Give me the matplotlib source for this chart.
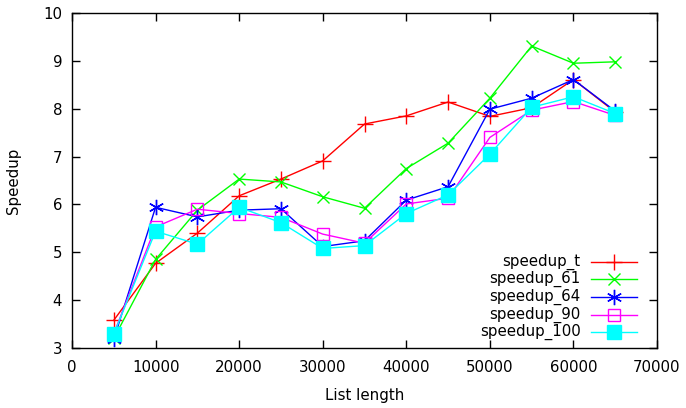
import matplotlib
matplotlib.use("Agg")
import matplotlib.pyplot as plt
from matplotlib.lines import Line2D

lengths = [5000, 10000, 15000, 20000, 25000, 30000, 35000,
           40000, 45000, 50000, 55000, 60000, 65000]

speedup_t = [3.58, 4.77, 5.40, 6.18, 6.53, 6.91, 7.68, 7.85, 8.14, 7.84, 8.02, 8.61, 7.93]
speedup_61 = [3.20, 4.85, 5.88, 6.53, 6.47, 6.16, 5.92, 6.75, 7.28, 8.22, 9.31, 8.95, 8.98]
speedup_64 = [3.18, 5.94, 5.74, 5.88, 5.91, 5.12, 5.24, 6.09, 6.37, 7.99, 8.22, 8.61, 7.95]
speedup_90 = [3.30, 5.53, 5.90, 5.81, 5.73, 5.38, 5.19, 6.01, 6.13, 7.40, 7.97, 8.15, 7.86]
speedup_100 = [3.29, 5.44, 5.17, 5.94, 5.62, 5.08, 5.14, 5.81, 6.20, 7.05, 8.03, 8.25, 7.90]

series = [
    ("speedup_t", speedup_t, "#ff0000", dict(marker="+", ms=11, mew=1)),
    ("speedup_61", speedup_61, "#00ff00", dict(marker="x", ms=9, mew=1)),
    ("speedup_64", speedup_64, "#0000ff", dict(marker=(6, 2, 0), ms=11, mew=1)),
    ("speedup_90", speedup_90, "#ff00ff", dict(marker="s", ms=8.5, mew=1, mfc="none")),
    ("speedup_100", speedup_100, "#00ffff", dict(marker="s", ms=9.5, mew=1)),
]

FS = 10.8

fig = plt.figure(figsize=(6.86, 4.08), dpi=100)
ax = fig.add_axes([72 / 686, 60 / 408, 585 / 686, 335 / 408])

for name, vals, col, mk in series:
    ax.plot(lengths, vals, color=col, lw=1, **mk)

ax.set_xlim(0, 70000)
ax.set_ylim(3, 10)
ax.set_xticks(range(0, 70001, 10000))
ax.set_yticks(range(3, 11))
ax.tick_params(direction="in", length=6, width=1, top=True, right=True,
               labelsize=FS)
ax.tick_params(axis="x", pad=9)
ax.tick_params(axis="y", pad=7)
for s in ax.spines.values():
    s.set_linewidth(1)
ax.set_xlabel("List length", fontsize=FS, labelpad=9)
ax.set_ylabel("Speedup", fontsize=FS, labelpad=16)

# legend drawn gnuplot-style: right-aligned text, sample on the right
ys = [0.2576, 0.206, 0.152, 0.0985, 0.047]
for (name, vals, col, mk), y in zip(series, ys):
    ax.text(0.8696, y, name, transform=ax.transAxes, ha="right", va="center", fontsize=FS)
    ax.add_line(Line2D([0.887, 0.966], [y, y], transform=ax.transAxes, color=col, lw=1))
    ax.add_line(Line2D([0.9265], [y], transform=ax.transAxes, color=col, lw=0, **mk))

fig.savefig("out.png", dpi=100)
